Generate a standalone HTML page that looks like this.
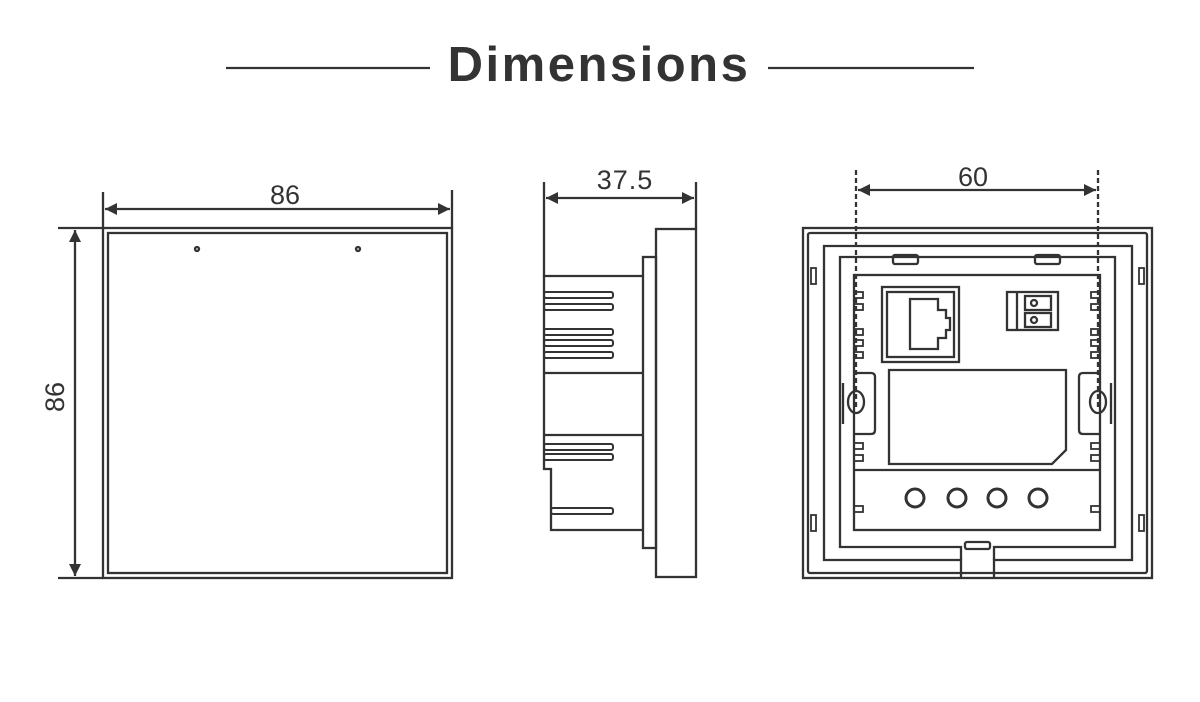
<!DOCTYPE html>
<html><head><meta charset="utf-8"><style>
html,body{margin:0;padding:0;background:#fff;width:1200px;height:702px;overflow:hidden}
svg{display:block}
</style></head><body>
<svg width="1200" height="702" viewBox="0 0 1200 702" xmlns="http://www.w3.org/2000/svg">
<defs>
<marker id="a" viewBox="0 0 10 10" refX="10" refY="5" markerWidth="16" markerHeight="12" markerUnits="userSpaceOnUse" orient="auto-start-reverse"><path d="M0,0 L10,5 L0,10 z" fill="#333"/></marker>
</defs>
<g fill="#333" font-family="Liberation Sans, sans-serif">
<text x="599" y="81" text-anchor="middle" font-size="49" font-weight="bold" letter-spacing="2.5">Dimensions</text>
<text x="285" y="204" text-anchor="middle" font-size="27">86</text>
<text x="625" y="189" text-anchor="middle" font-size="27" letter-spacing="1">37.5</text>
<text x="973" y="186" text-anchor="middle" font-size="27">60</text>
<text transform="translate(64,397) rotate(-90)" text-anchor="middle" font-size="27">86</text>
</g>
<g stroke="#333" stroke-width="2.3" fill="none">
<line x1="226" y1="68" x2="430" y2="68"/>
<line x1="768" y1="68" x2="974" y2="68"/>
<!-- left -->
<rect x="103" y="228" width="349" height="350"/>
<rect x="108" y="233" width="339" height="340"/>
<circle cx="197" cy="249" r="2"/><circle cx="358" cy="249" r="2"/>
<line x1="103" y1="192" x2="103" y2="228"/>
<line x1="452" y1="190" x2="452" y2="228"/>
<line x1="105" y1="209" x2="450" y2="209" marker-start="url(#a)" marker-end="url(#a)"/>
<line x1="58" y1="228" x2="103" y2="228"/>
<line x1="58" y1="578" x2="103" y2="578"/>
<line x1="75" y1="230" x2="75" y2="576" marker-start="url(#a)" marker-end="url(#a)"/>
<!-- side -->
<line x1="544" y1="182" x2="544" y2="276"/>
<line x1="696" y1="182" x2="696" y2="229"/>
<line x1="546" y1="198" x2="694" y2="198" marker-start="url(#a)" marker-end="url(#a)"/>
<rect x="656" y="229" width="40" height="348"/>
<rect x="643" y="257" width="13" height="291"/>
<path d="M643,276 H544 V469 H551 V530 H643"/>
<line x1="544" y1="373" x2="643" y2="373"/>
<line x1="544" y1="435" x2="643" y2="435"/>
<g stroke-width="2">
<rect x="544" y="292" width="69" height="6" rx="2"/>
<rect x="544" y="304" width="69" height="6" rx="2"/>
<rect x="544" y="329" width="69" height="6" rx="2"/>
<rect x="544" y="340" width="69" height="6" rx="2"/>
<rect x="544" y="352" width="69" height="6" rx="2"/>
<rect x="544" y="444" width="69" height="6" rx="2"/>
<rect x="544" y="454" width="69" height="6" rx="2"/>
<rect x="551" y="508" width="62" height="6" rx="2"/>
</g>
<!-- back -->
<rect x="803" y="228" width="349" height="350"/>
<rect x="808" y="233" width="339" height="340" rx="2"/>
<path d="M961,578 V560 H824 V246 H1132 V560 H994 V578"/>
<path d="M961,560 V547 H840 V257 H1115 V547 H994 V560"/>
<rect x="854" y="275" width="246" height="255"/>
<line x1="854" y1="470" x2="1100" y2="470"/>
<rect x="882" y="287" width="77" height="75"/>
<rect x="887" y="292" width="67" height="65"/>
<path d="M910,299 H938 V310 H946 V318 H950 V330 H946 V338 H938 V349 H910 Z"/>
<rect x="1007" y="292" width="51" height="38"/>
<line x1="1017" y1="292" x2="1017" y2="330"/>
<rect x="1025" y="296" width="26" height="14"/><rect x="1025" y="313" width="26" height="14"/>
<circle cx="1034" cy="303" r="3"/><circle cx="1034" cy="320" r="3"/>
<path d="M889,370 H1066 V450 L1052,464 H889 Z"/>
<circle cx="915" cy="498" r="9" stroke-width="3"/>
<circle cx="957" cy="498" r="9" stroke-width="3"/>
<circle cx="997" cy="498" r="9" stroke-width="3"/>
<circle cx="1038" cy="498" r="9" stroke-width="3"/>
<ellipse cx="856" cy="402" rx="8" ry="11"/>
<ellipse cx="1098" cy="402" rx="8" ry="11"/>
<path d="M854,373 H871 Q875,373 875,377 V430 Q875,434 871,434 H854"/>
<path d="M1100,373 H1083 Q1079,373 1079,377 V430 Q1079,434 1083,434 H1100"/>
<path d="M843,383 V424 M1111,383 V424"/>
<rect x="893" y="255" width="25" height="9" rx="2"/>
<rect x="1035" y="255" width="25" height="9" rx="2"/>
<rect x="965" y="542" width="25" height="7" rx="2"/>
<g stroke-width="1.8">
<rect x="854" y="292" width="9" height="6"/><rect x="854" y="304" width="9" height="6"/>
<rect x="854" y="329" width="9" height="6"/><rect x="854" y="340" width="9" height="6"/><rect x="854" y="352" width="9" height="6"/>
<rect x="854" y="443" width="9" height="6"/><rect x="854" y="455" width="9" height="6"/><rect x="854" y="506" width="9" height="6"/>
<rect x="1091" y="292" width="9" height="6"/><rect x="1091" y="304" width="9" height="6"/>
<rect x="1091" y="329" width="9" height="6"/><rect x="1091" y="340" width="9" height="6"/><rect x="1091" y="352" width="9" height="6"/>
<rect x="1091" y="443" width="9" height="6"/><rect x="1091" y="455" width="9" height="6"/><rect x="1091" y="506" width="9" height="6"/>
<rect x="811" y="268" width="5" height="16"/><rect x="1139" y="268" width="5" height="16"/>
<rect x="811" y="515" width="5" height="16"/><rect x="1139" y="515" width="5" height="16"/>
</g>
<line x1="856" y1="170" x2="856" y2="410" stroke-dasharray="5,3"/>
<line x1="1098" y1="170" x2="1098" y2="410" stroke-dasharray="5,3"/>
<line x1="858" y1="190" x2="1096" y2="190" marker-start="url(#a)" marker-end="url(#a)"/>
</g>
</svg>
</body></html>
